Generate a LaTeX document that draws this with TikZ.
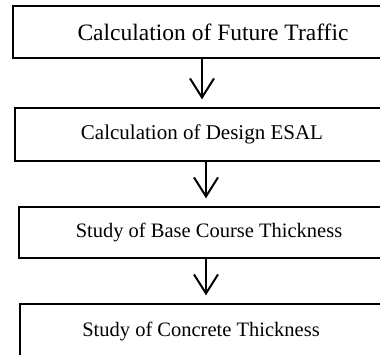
\documentclass[tikz,border=0pt]{standalone}
\usepackage{fontspec}
\setmainfont{Liberation Serif}
\usetikzlibrary{arrows.meta}
\begin{document}
\begin{tikzpicture}[x=1pt,y=-1pt,
  stagebox/.style={draw, line width=1.4pt, inner sep=0pt, font=\fontsize{20.5}{24}\selectfont},
  flow/.style={line width=2pt, -{Straight Barb[length=19pt,width=24pt,line width=2pt]}, shorten >=8pt}]
  \useasboundingbox (0,0) rectangle (380,354);
  \clip (0,0) rectangle (380,354);
  % process stages (right edges run past the page)
  \node[stagebox, minimum width=400pt, minimum height=52pt, font=\fontsize{23.5}{27}\selectfont] (b1) at (213,32) {Calculation of Future Traffic};
  \node[stagebox, minimum width=374pt, minimum height=53pt, font=\fontsize{21}{25}\selectfont] (b2) at (202,134.5) {Calculation of Design ESAL};
  \node[stagebox, minimum width=380pt, minimum height=51pt] (b3) at (209,232.5) {Study of Base Course Thickness};
  \node[stagebox, minimum width=362pt, minimum height=54pt] (b4) at (201,331) {Study of Concrete Thickness};
  % arrow columns
  \coordinate (c1) at (202,0);
  \coordinate (c2) at (206,0);
  \coordinate (c3) at (206,0);
  \draw[flow] (b1.south -| c1) -- (b2.north -| c1);
  \draw[flow] (b2.south -| c2) -- (b3.north -| c2);
  \draw[flow] (b3.south -| c3) -- (b4.north -| c3);
\end{tikzpicture}
\end{document}
